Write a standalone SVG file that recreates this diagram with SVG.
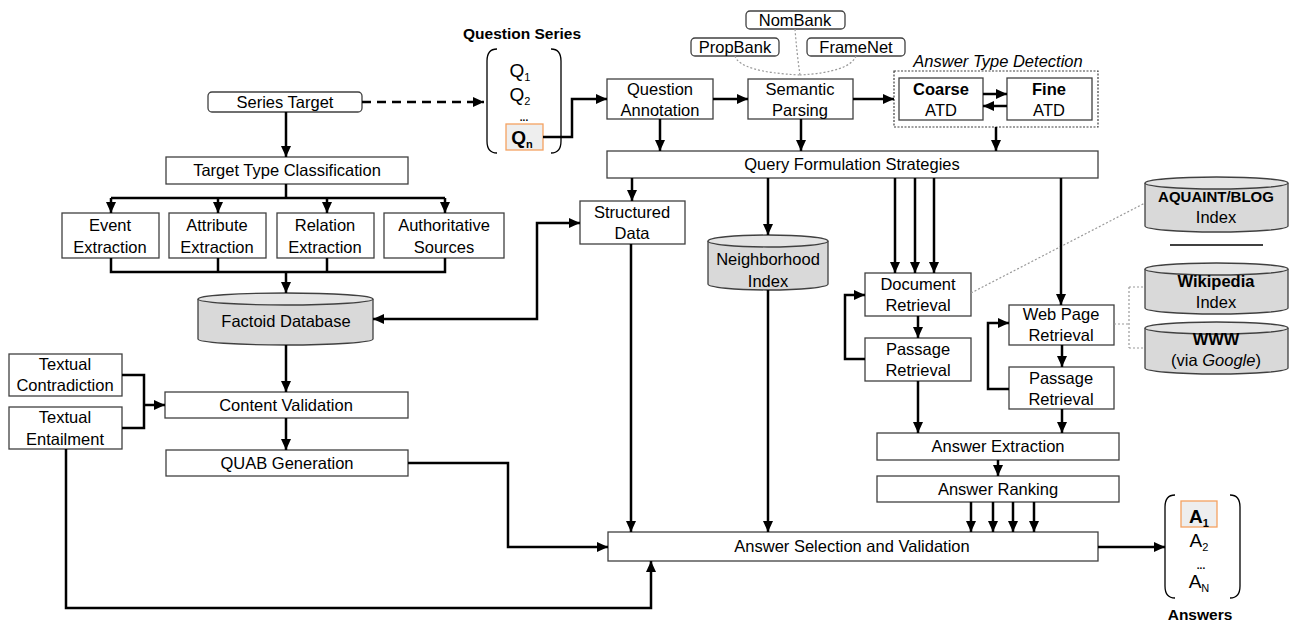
<svg xmlns="http://www.w3.org/2000/svg" width="1289" height="624" viewBox="0 0 1289 624">
<style>
  text { font-family: "Liberation Sans", Arial, sans-serif; font-size: 16.5px; fill: #000; text-anchor: middle; }
  .box { fill: #fff; stroke: #404040; stroke-width: 1.3; }
  .rbox { fill: #fff; stroke: #404040; stroke-width: 1.3; }
  .cyl { fill: #d9d9d9; stroke: #404040; stroke-width: 1.3; }
  .cyltop { fill: #e4e4e4; stroke: #404040; stroke-width: 1.3; }
  .b { font-weight: bold; }
  .conn path { fill: none; stroke: #000; stroke-width: 2.5; }
  .dot { fill: none; stroke: #999; stroke-width: 1.2; stroke-dasharray: 2 2; }
  .brk { fill: none; stroke: #000; stroke-width: 1.3; }
</style>
<defs>
  <marker id="ah" markerUnits="userSpaceOnUse" markerWidth="11" markerHeight="10" refX="11" refY="5" orient="auto-start-reverse">
    <path d="M0,0 L11,5 L0,10 z" fill="#000"/>
  </marker>
</defs>

<!-- Question Series -->
<g id="question-series">
  <text x="522" y="39" class="b" style="font-size:15.5px">Question Series</text>
  <path class="brk" d="M497,49 Q487,49 487,61 V141 Q487,153 497,153"/>
  <path class="brk" d="M551,49 Q561,49 561,61 V141 Q561,153 551,153"/>
  <text x="520" y="77" style="font-size:19px">Q<tspan dy="4" style="font-size:11px">1</tspan></text>
  <text x="520" y="101" style="font-size:19px">Q<tspan dy="4" style="font-size:11px">2</tspan></text>
  <text x="524" y="121" class="b" style="font-size:10px">...</text>
  <rect x="506" y="124" width="37" height="26" fill="#eeeeee" stroke="#f4a261" stroke-width="1.3"/>
  <text x="522" y="144" class="b" style="font-size:19px">Q<tspan dy="4" style="font-size:11px">n</tspan></text>
</g>

<g id="series-target">
  <rect class="rbox" x="208" y="92" width="154" height="20" rx="4"/>
  <text x="285" y="108">Series Target</text>
</g>
<g id="target-type">
  <rect class="box" x="166" y="157" width="242" height="27"/>
  <text x="287" y="176">Target Type Classification</text>
</g>
<g id="event-extraction">
  <rect class="box" x="62" y="213" width="97" height="45"/>
  <text x="110" y="231">Event</text><text x="110" y="253">Extraction</text>
</g>
<g id="attribute-extraction">
  <rect class="box" x="169" y="213" width="97" height="45"/>
  <text x="217" y="231">Attribute</text><text x="217" y="253">Extraction</text>
</g>
<g id="relation-extraction">
  <rect class="box" x="277" y="213" width="97" height="45"/>
  <text x="325" y="231">Relation</text><text x="325" y="253">Extraction</text>
</g>
<g id="authoritative-sources">
  <rect class="box" x="384" y="213" width="120" height="45"/>
  <text x="444" y="231">Authoritative</text><text x="444" y="253">Sources</text>
</g>
<g id="factoid-db">
  <path class="cyl" d="M198,299 V339 A87.5,6 0 0 0 373,339 V299"/>
  <ellipse class="cyltop" cx="285.5" cy="299" rx="87.5" ry="6"/>
  <text x="286" y="327">Factoid Database</text>
</g>
<g id="textual-contradiction">
  <rect class="box" x="9" y="354" width="113" height="42"/>
  <text x="65" y="370">Textual</text><text x="65" y="391">Contradiction</text>
</g>
<g id="textual-entailment">
  <rect class="box" x="9" y="407" width="113" height="42"/>
  <text x="65" y="423">Textual</text><text x="65" y="445">Entailment</text>
</g>
<g id="content-validation">
  <rect class="box" x="165" y="392" width="243" height="26"/>
  <text x="286" y="411">Content Validation</text>
</g>
<g id="quab-generation">
  <rect class="box" x="166" y="450" width="242" height="26"/>
  <text x="287" y="469">QUAB Generation</text>
</g>
<g id="structured-data">
  <rect class="box" x="580" y="201" width="105" height="43"/>
  <text x="632" y="218">Structured</text><text x="632" y="239">Data</text>
</g>

<!-- Semantic resources -->
<g id="nombank">
  <rect class="rbox" x="746" y="11" width="99" height="18" rx="4"/>
  <text x="795" y="26">NomBank</text>
</g>
<g id="propbank">
  <rect class="rbox" x="691" y="38" width="88" height="18" rx="4"/>
  <text x="735" y="53">PropBank</text>
</g>
<g id="framenet">
  <rect class="rbox" x="807" y="38" width="98" height="18" rx="4"/>
  <text x="856" y="53">FrameNet</text>
</g>

<g id="question-annotation">
  <rect class="box" x="607" y="79" width="106" height="40"/>
  <text x="660" y="95">Question</text><text x="660" y="116">Annotation</text>
</g>
<g id="semantic-parsing">
  <rect class="box" x="748" y="79" width="105" height="40"/>
  <text x="800" y="95">Semantic</text><text x="800" y="116">Parsing</text>
</g>
<g id="answer-type-detection">
  <rect x="894" y="71" width="204" height="56" fill="none" stroke="#404040" stroke-width="1.2" stroke-dasharray="2 1.5"/>
  <text x="998" y="67" style="font-style:italic">Answer Type Detection</text>
  <g id="coarse-atd">
    <rect class="box" x="899" y="78" width="84" height="42"/>
    <text x="941" y="95" class="b">Coarse</text><text x="941" y="116">ATD</text>
  </g>
  <g id="fine-atd">
    <rect class="box" x="1007" y="78" width="85" height="42"/>
    <text x="1049" y="95" class="b">Fine</text><text x="1049" y="116">ATD</text>
  </g>
</g>
<g id="query-formulation">
  <rect class="box" x="607" y="151" width="491" height="27"/>
  <text x="852" y="170">Query Formulation Strategies</text>
</g>
<g id="neighborhood-index">
  <path class="cyl" d="M708,241 V284 A60,6 0 0 0 828,284 V241"/>
  <ellipse class="cyltop" cx="768" cy="241" rx="60" ry="6"/>
  <text x="768" y="265">Neighborhood</text><text x="768" y="287">Index</text>
</g>
<g id="document-retrieval">
  <rect class="box" x="865" y="273" width="106" height="43"/>
  <text x="918" y="290">Document</text><text x="918" y="311">Retrieval</text>
</g>
<g id="passage-retrieval-1">
  <rect class="box" x="865" y="338" width="106" height="43"/>
  <text x="918" y="355">Passage</text><text x="918" y="376">Retrieval</text>
</g>
<g id="web-page-retrieval">
  <rect class="box" x="1009" y="305" width="105" height="40"/>
  <text x="1061" y="320">Web Page</text><text x="1061" y="341">Retrieval</text>
</g>
<g id="passage-retrieval-2">
  <rect class="box" x="1009" y="367" width="105" height="42"/>
  <text x="1061" y="384">Passage</text><text x="1061" y="405">Retrieval</text>
</g>
<g id="aquaint-index">
  <path class="cyl" d="M1145,183 V226 A71.5,6 0 0 0 1288,226 V183"/>
  <ellipse class="cyltop" cx="1216.5" cy="183" rx="71.5" ry="6"/>
  <text x="1216" y="202" class="b" style="font-size:15px">AQUAINT/BLOG</text><text x="1216" y="223">Index</text>
</g>
<line x1="1170" y1="245" x2="1263" y2="245" stroke="#000" stroke-width="1.3"/>
<g id="wikipedia-index">
  <path class="cyl" d="M1145,269 V308 A71.5,6 0 0 0 1288,308 V269"/>
  <ellipse class="cyltop" cx="1216.5" cy="269" rx="71.5" ry="6"/>
  <text x="1216" y="287" class="b">Wikipedia</text><text x="1216" y="308">Index</text>
</g>
<g id="www">
  <path class="cyl" d="M1145,328 V368 A71.5,6 0 0 0 1288,368 V328"/>
  <ellipse class="cyltop" cx="1216.5" cy="328" rx="71.5" ry="6"/>
  <text x="1216" y="345" class="b">WWW</text><text x="1216" y="366">(via <tspan style="font-style:italic">Google</tspan>)</text>
</g>
<g id="answer-extraction">
  <rect class="box" x="877" y="433" width="242" height="27"/>
  <text x="998" y="452">Answer Extraction</text>
</g>
<g id="answer-ranking">
  <rect class="box" x="877" y="476" width="242" height="26"/>
  <text x="998" y="495">Answer Ranking</text>
</g>
<g id="answer-selection">
  <rect class="box" x="608" y="532" width="490" height="29"/>
  <text x="852" y="552">Answer Selection and Validation</text>
</g>
<g id="answers">
  <path class="brk" d="M1175,495 Q1165,495 1165,507 V586 Q1165,598 1175,598"/>
  <path class="brk" d="M1230,495 Q1240,495 1240,507 V586 Q1240,598 1230,598"/>
  <rect x="1181" y="501" width="36" height="26" fill="#eeeeee" stroke="#f4a261" stroke-width="1.3"/>
  <text x="1199" y="523" class="b" style="font-size:19px">A<tspan dy="4" style="font-size:11px">1</tspan></text>
  <text x="1199" y="547" style="font-size:19px">A<tspan dy="4" style="font-size:11px">2</tspan></text>
  <text x="1201" y="569" class="b" style="font-size:10px">...</text>
  <text x="1199" y="588" style="font-size:19px">A<tspan dy="4" style="font-size:11px">N</tspan></text>
  <text x="1200" y="620" class="b" style="font-size:15.5px">Answers</text>
</g>

<!-- dotted resource links -->
<g id="resource-links">
  <path class="dot" d="M735,56 Q740,72 800,75"/>
  <path class="dot" d="M856,56 Q850,72 800,75"/>
  <path class="dot" d="M795,29 Q797,55 800,75"/>
  <path class="dot" d="M971,293 L1145,203"/>
  <path class="dot" d="M1114,324 H1129 M1129,287 V348 M1129,287 H1145 M1129,348 H1145"/>
</g>

<g id="connectors" class="conn">
  <path d="M362,102 H484" stroke-dasharray="9 6" marker-end="url(#ah)"/>
  <path d="M286,112 V157" marker-end="url(#ah)"/>
  <path d="M286,184 V198"/>
  <path d="M111,198 H445"/>
  <path d="M111,198 V213" marker-end="url(#ah)"/>
  <path d="M218,198 V213" marker-end="url(#ah)"/>
  <path d="M327,198 V213" marker-end="url(#ah)"/>
  <path d="M445,198 V213" marker-end="url(#ah)"/>
  <path d="M111,258 V272 H445 V258"/>
  <path d="M218,258 V272"/>
  <path d="M327,258 V272"/>
  <path d="M286,272 V293" marker-end="url(#ah)"/>
  <path d="M373,319 H537 V223 H580" marker-start="url(#ah)" marker-end="url(#ah)"/>
  <path d="M286,345 V392" marker-end="url(#ah)"/>
  <path d="M286,418 V450" marker-end="url(#ah)"/>
  <path d="M122,375 H144 V428 H122"/>
  <path d="M144,405 H165" marker-end="url(#ah)"/>
  <path d="M66,449 V608 H651 V561" marker-end="url(#ah)"/>
  <path d="M408,463 H508 V547 H608" marker-end="url(#ah)"/>
  <path d="M543,137 H572 V99 H607" marker-end="url(#ah)"/>
  <path d="M713,99 H748" marker-end="url(#ah)"/>
  <path d="M853,99 H894" marker-end="url(#ah)"/>
  <path d="M983,94 H1007" marker-end="url(#ah)"/>
  <path d="M1007,106 H983" marker-end="url(#ah)"/>
  <path d="M660,119 V151" marker-end="url(#ah)"/>
  <path d="M801,119 V151" marker-end="url(#ah)"/>
  <path d="M996,127 V151" marker-end="url(#ah)"/>
  <path d="M632,178 V201" marker-end="url(#ah)"/>
  <path d="M768,178 V235" marker-end="url(#ah)"/>
  <path d="M895,178 V273" marker-end="url(#ah)"/>
  <path d="M915,178 V273" marker-end="url(#ah)"/>
  <path d="M934,178 V273" marker-end="url(#ah)"/>
  <path d="M1061,178 V305" marker-end="url(#ah)"/>
  <path d="M631,244 V532" marker-end="url(#ah)"/>
  <path d="M768,290 V532" marker-end="url(#ah)"/>
  <path d="M918,316 V338" marker-end="url(#ah)"/>
  <path d="M865,359 H845 V295 H865" marker-end="url(#ah)"/>
  <path d="M1062,345 V367" marker-end="url(#ah)"/>
  <path d="M1009,389 H988 V323 H1009" marker-end="url(#ah)"/>
  <path d="M918,381 V433" marker-end="url(#ah)"/>
  <path d="M1062,409 V433" marker-end="url(#ah)"/>
  <path d="M998,460 V476" marker-end="url(#ah)"/>
  <path d="M971,502 V532" marker-end="url(#ah)"/>
  <path d="M993,502 V532" marker-end="url(#ah)"/>
  <path d="M1013,502 V532" marker-end="url(#ah)"/>
  <path d="M1034,502 V532" marker-end="url(#ah)"/>
  <path d="M1098,547 H1165" marker-end="url(#ah)"/>
</g>
</svg>
